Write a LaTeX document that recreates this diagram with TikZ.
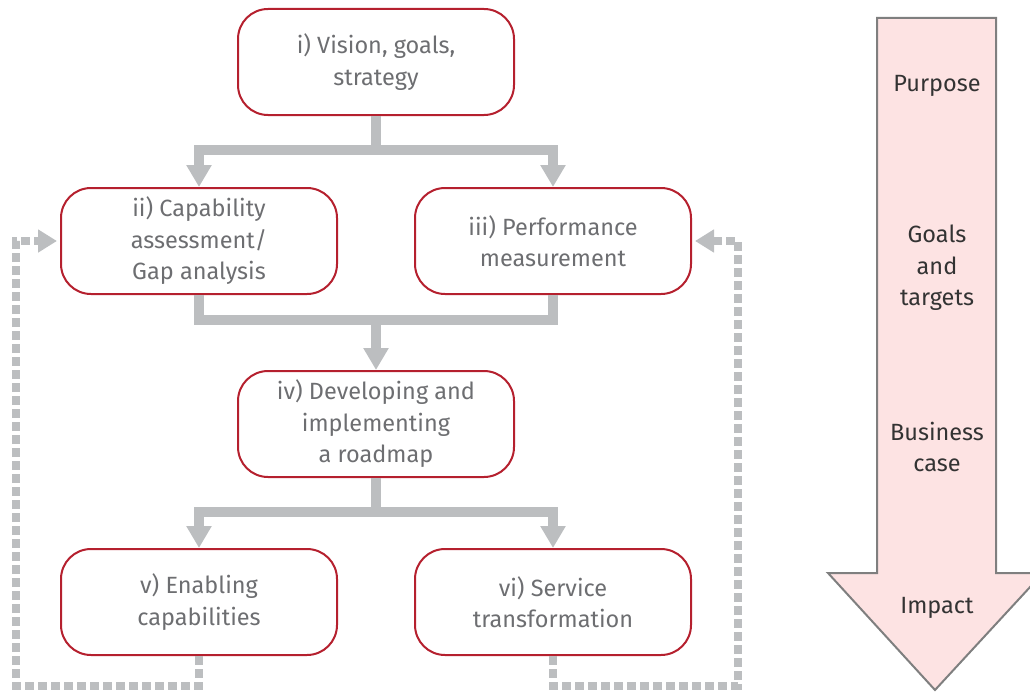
\documentclass[tikz,border=0pt]{standalone}
\usepackage{fontspec}
\setmainfont{Fira Sans}
\usetikzlibrary{arrows.meta}

\definecolor{boxred}{HTML}{B5202E}
\definecolor{textgray}{HTML}{6D6E71}
\definecolor{flowgray}{HTML}{BCBEC0}
\definecolor{arrowpink}{HTML}{FDE3E3}
\definecolor{arrowedge}{HTML}{7F7F7F}

\begin{document}
\begin{tikzpicture}[x=1pt, y=-1pt,
                    step box/.style={draw=boxred, line width=2pt, rounded corners=30pt,
                                     minimum width=276pt, minimum height=106pt, align=center,
                                     text=textgray, font=\fontsize{23.5}{31.5}\selectfont},
                    flow/.style={draw=flowgray, line width=10pt},
                    flow arrow/.style={flow, -{Triangle[width=24pt,length=22pt]}},
                    feedback/.style={draw=flowgray, line width=8pt, dash pattern=on 9pt off 4pt,
                                     -{Triangle[width=22pt,length=19pt]}, shorten >=3pt},
                    label text/.style={align=center, text=black!80, font=\fontsize{23.5}{31.5}\selectfont}]

  \useasboundingbox (0,0) rectangle (1030,693);
  \clip (0,0) rectangle (1030,693);

  % boxes
  \node[step box] (vision) at (376,62) {i) Vision, goals,\\strategy};
  \node[step box] (capab) at (199,241) {ii) Capability\\assessment/\\Gap analysis};
  \node[step box] (perf) at (553,241) {iii) Performance\\measurement};
  \node[step box] (roadmap) at (376,424) {iv) Developing and\\implementing\\a roadmap};
  \node[step box] (enable) at (199,602) {v) Enabling\\capabilities};
  \node[step box] (service) at (553,602) {vi) Service\\transformation};

  % solid connectors
  \coordinate (split1) at (376,150);
  \coordinate (merge) at (376,320);
  \coordinate (split2) at (376,512);
  \draw[flow] (vision.south) -- (split1);
  \draw[flow arrow] (split1) -| (capab.north);
  \draw[flow arrow] (split1) -| (perf.north);
  \draw[flow] (capab.south) |- (merge) -| (perf.south);
  \draw[flow arrow] (merge) -- (roadmap.north);
  \draw[flow] (roadmap.south) -- (split2);
  \draw[flow arrow] (split2) -| (enable.north);
  \draw[flow arrow] (split2) -| (service.north);

  % feedback loops
  \coordinate (lloop) at (16,686);
  \coordinate (rloop) at (738,686);
  \draw[feedback] (enable.south) |- (lloop) |- (capab.west);
  \draw[feedback] (service.south) |- (rloop) |- (perf.east);

  % big arrow
  \draw[fill=arrowpink, draw=arrowedge, line width=2pt, line join=miter]
    (877,18) -- (996,18) -- (996,573) -- (1043,573) -- (935,690) -- (828,573) -- (877,573) -- cycle;
  \node[label text] (purpose) at (937,86) {Purpose};
  \node[label text] (goals) at (937,268) {Goals\\and\\targets};
  \node[label text] (business) at (937,447) {Business\\case};
  \node[label text] (impact) at (937,608) {Impact};
\end{tikzpicture}
\end{document}
